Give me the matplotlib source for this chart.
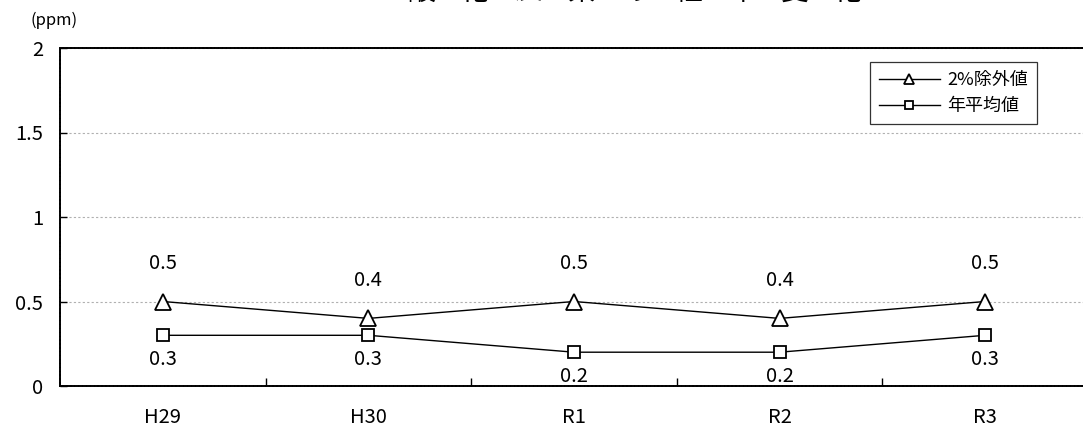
import matplotlib
matplotlib.use("Agg")
import matplotlib.pyplot as plt
from matplotlib.ticker import FixedLocator

plt.rcParams['font.family'] = ['Noto Sans CJK JP', 'DejaVu Sans']

years = ["H29", "H30", "R1", "R2", "R3"]
pct98 = [0.5, 0.4, 0.5, 0.4, 0.5]
annual = [0.3, 0.3, 0.2, 0.2, 0.3]
yticks = [0, 0.5, 1, 1.5, 2]
ytick_labels = ["0", "0.5", "1", "1.5", "2"]
title_chars = "一酸化炭素の経年変化"
label_pct = "2%除外値"
label_annual = "年平均値"
unit = "(ppm)"

W, H = 1083, 429
fig = plt.figure(figsize=(W/100, H/100), dpi=100)
ax = fig.add_axes([60/W, 1-386/H, 1028/W, (386-48)/H])

x = list(range(len(years)))
ax.plot(x, pct98, color='black', lw=1, marker='^', markersize=11,
        markerfacecolor='white', markeredgecolor='black', markeredgewidth=1.3,
        label=label_pct, zorder=3)
ax.plot(x, annual, color='black', lw=1, marker='s', markersize=8.5,
        markerfacecolor='white', markeredgecolor='black', markeredgewidth=1.3,
        label=label_annual, zorder=3)

for xi, v in zip(x, pct98):
    ax.annotate(f"{v:g}", (xi, v), xytext=(0, 20), textcoords='offset points',
                ha='center', va='bottom', fontsize=14.5)
for xi, v in zip(x, annual):
    ax.annotate(f"{v:g}", (xi, v), xytext=(0, -10), textcoords='offset points',
                ha='center', va='top', fontsize=14.5)

ax.set_xlim(-0.5, 4.5)
ax.set_ylim(0, 2)
ax.set_yticks(yticks)
ax.set_yticklabels(ytick_labels, fontsize=14.5)
ax.set_xticks(x)
ax.set_xticklabels(years, fontsize=14.5)
ax.xaxis.set_minor_locator(FixedLocator([0.5, 1.5, 2.5, 3.5]))
ax.tick_params(axis='x', which='major', length=0, pad=15)
ax.tick_params(axis='x', which='minor', direction='in', length=6, width=1)
ax.tick_params(axis='y', direction='in', length=5, width=1, pad=12)

ax.grid(axis='y', color='#b0b0b0', linestyle=(0, (2, 2)), linewidth=0.8)
ax.set_axisbelow(True)

for side in ['top', 'left', 'bottom']:
    ax.spines[side].set_linestyle((0, (1.2, 0.8)))
    ax.spines[side].set_linewidth(1.4)
    ax.spines[side].set_color('black')
ax.spines['right'].set_visible(False)

ax_w = 1028
ax_h = 338
leg = ax.legend(loc='upper right', bbox_to_anchor=((1037-60)/ax_w, 1-14/ax_h),
                borderaxespad=0, fontsize=13, frameon=True, fancybox=False,
                edgecolor='black', handlelength=3.4, borderpad=0.5,
                labelspacing=0.45, handletextpad=0.4, markerscale=0.7)
leg.get_frame().set_linewidth(0.9)

fig.text(30/W, 1-20/H, unit, fontsize=12, va='center', ha='left')

pitch = 53.3
x0 = 368
for i, ch in enumerate(title_chars):
    fig.text((x0 + i*pitch)/W, 1+8.5/H, ch, fontsize=20, ha='center', va='center')

fig.savefig("out.png", dpi=100)
